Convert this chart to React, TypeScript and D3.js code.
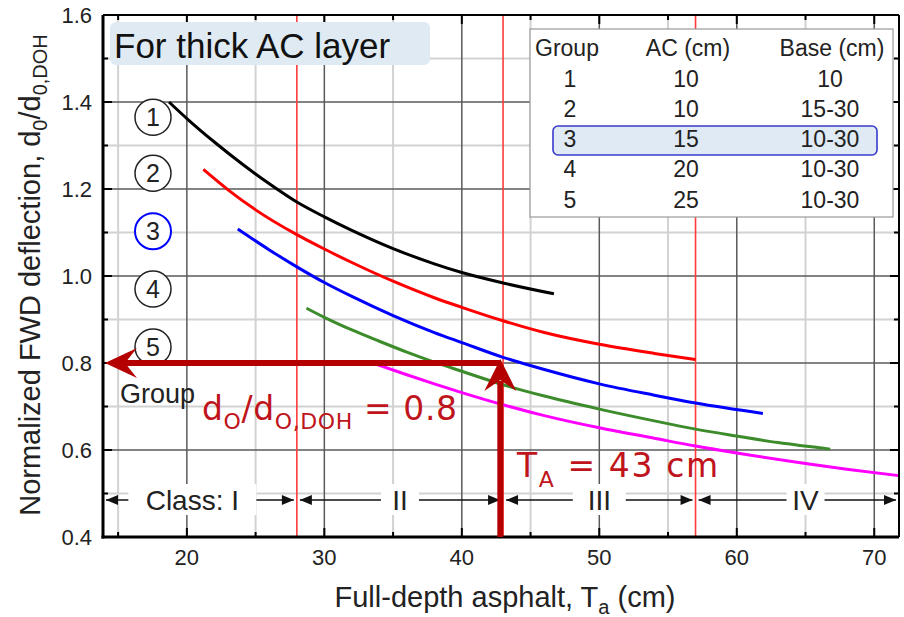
import React from 'react';
import * as d3 from 'd3';

// group curves: [Ta (cm), d0/d0,DOH]
const group1 = [[18.7, 1.40], [20, 1.362], [22, 1.308], [24, 1.258], [26, 1.212], [28, 1.17], [30, 1.136], [32, 1.105], [35, 1.063], [38, 1.028], [40, 1.008], [43, 0.984], [46.7, 0.959]];
const group2 = [[21.2, 1.245], [23, 1.198], [25, 1.152], [28, 1.095], [30, 1.062], [32, 1.031], [35, 0.988], [38, 0.95], [40, 0.928], [43, 0.897], [46, 0.87], [50, 0.843], [54, 0.822], [57, 0.808]];
const group3 = [[23.7, 1.108], [26, 1.06], [28, 1.021], [30, 0.985], [32, 0.953], [35, 0.909], [38, 0.87], [40, 0.847], [43, 0.813], [46, 0.785], [50, 0.752], [54, 0.726], [57, 0.708], [61.9, 0.684]];
const group4 = [[28.7, 0.926], [30, 0.905], [32, 0.876], [34, 0.85], [36, 0.825], [38, 0.802], [40, 0.781], [43, 0.75], [46, 0.724], [50, 0.694], [54, 0.667], [57, 0.648], [60, 0.632], [63, 0.617], [66.8, 0.602]];
const group5 = [[33.8, 0.797], [36, 0.773], [38, 0.752], [40, 0.732], [43, 0.704], [46, 0.679], [50, 0.651], [54, 0.627], [57, 0.609], [60, 0.593], [65, 0.569], [68, 0.556], [71.8, 0.541]];

const groupSeries = [group1, group2, group3, group4, group5];
const groupColors = ['#000000', '#ff0000', '#0000ff', '#3d8c2c', '#ff00ff'];
const circleLabels = ['1', '2', '3', '4', '5'];
const circleValues = [1.365, 1.236, 1.103, 0.97, 0.837];

const xMajor = [20, 30, 40, 50, 60, 70];
const xMinor = [15, 25, 35, 45, 55, 65];
const yMajor = [0.4, 0.6, 0.8, 1.0, 1.2, 1.4, 1.6];
const yMinor = [0.5, 0.7, 0.9, 1.1, 1.3, 1.5];

const classBounds = [13.9, 28, 43, 57, 71.8];
const classNames = ['Class: I', 'II', 'III', 'IV'];
const classLabelX = [20.4, 35.5, 50, 65];
const classRowY = 0.485;

const tableHeader = ['Group', 'AC (cm)', 'Base (cm)'];
const tableGroup = ['1', '2', '3', '4', '5'];
const tableAC = ['10', '10', '15', '20', '25'];
const tableBase = ['10', '15-30', '10-30', '10-30', '10-30'];

const targetD = 0.8;
const targetTa = 42.8;

const W = 904;
const H = 617;
const font = '"Liberation Sans", Arial, sans-serif';
const redFont = '"DejaVu Sans", Verdana, sans-serif';

export default function App() {
  const x = d3.scaleLinear().domain([13.9, 71.8]).range([103, 899]);
  const y = d3.scaleLinear().domain([0.4, 1.6]).range([537, 15]);

  const line = d3.line<number[]>()
    .x(d => x(d[0]))
    .y(d => y(d[1]))
    .curve(d3.curveMonotoneX);

  const x0 = x.range()[0], x1 = x.range()[1];
  const y0 = y.range()[0], y1 = y.range()[1];

  const arrowRed = '#b40000';
  const hy = y(targetD);
  const vx = x(targetTa);

  const small = (ax: number, ay: number, dir: number) =>
    `M${ax},${ay} L${ax - dir * 12},${ay - 5} L${ax - dir * 12},${ay + 5} Z`;

  return (
    <svg width={W} height={H} style={{ position: 'absolute', left: 0, top: 0 }}>
      <rect width={W} height={H} fill="#fff" />

      {/* grid */}
      {xMinor.map(v => <line key={'xm' + v} x1={x(v)} x2={x(v)} y1={y0} y2={y1} stroke="#d2d2d2" strokeWidth={2} />)}
      {yMinor.map(v => <line key={'ym' + v} x1={x0} x2={x1} y1={y(v)} y2={y(v)} stroke="#d2d2d2" strokeWidth={2} />)}
      {xMajor.map(v => <line key={'xM' + v} x1={x(v)} x2={x(v)} y1={y0} y2={y1} stroke="#5a5a5a" strokeWidth={1.5} />)}
      {yMajor.map(v => <line key={'yM' + v} x1={x0} x2={x1} y1={y(v)} y2={y(v)} stroke="#5a5a5a" strokeWidth={1.5} />)}

      {/* class boundaries */}
      {classBounds.slice(1, 4).map(v => <line key={'cb' + v} x1={x(v)} x2={x(v)} y1={y0} y2={y1} stroke="#ff3b3b" strokeWidth={1.6} />)}

      {/* curves */}
      {groupSeries.map((s, i) => (
        <path key={'g' + i} d={line(s) || ''} fill="none" stroke={groupColors[i]} strokeWidth={3} />
      ))}

      {/* class row */}
      {classNames.map((n, i) => {
        const a = x(classBounds[i]) + 3, b = x(classBounds[i + 1]) - 3;
        const yy = y(classRowY);
        return (
          <g key={'cl' + i}>
            <line x1={a} x2={b} y1={yy} y2={yy} stroke="#111" strokeWidth={1.6} />
            <path d={small(a, yy, -1)} fill="#111" />
            <path d={small(b, yy, 1)} fill="#111" />
          </g>
        );
      })}
      {classNames.map((n, i) => {
        const cx = x(classLabelX[i]);
        const wd = n.length * 15 + 8;
        return (
          <g key={'cn' + i}>
            <rect x={cx - wd / 2} y={y(classRowY) - 16} width={wd} height={31} fill="#fff" />
            <text x={cx} y={y(classRowY) + 10} textAnchor="middle" fontFamily={font} fontSize={28} fill="#222">{n}</text>
          </g>
        );
      })}

      {/* axes frame */}
      <line x1={x0} x2={x1} y1={y1} y2={y1} stroke="#000" strokeWidth={2} />
      <line x1={x1} x2={x1} y1={y0} y2={y1} stroke="#000" strokeWidth={2} />
      <line x1={x0} x2={x0} y1={y0 + 1.5} y2={y1} stroke="#000" strokeWidth={3} />
      <line x1={x0 - 1.5} x2={x1} y1={y0} y2={y0} stroke="#000" strokeWidth={3} />
      {xMajor.map(v => (
        <g key={'xt' + v}>
          <line x1={x(v)} x2={x(v)} y1={y0} y2={y0 - 9} stroke="#000" strokeWidth={2} />
          <line x1={x(v)} x2={x(v)} y1={y1} y2={y1 + 9} stroke="#000" strokeWidth={2} />
          <text x={x(v)} y={565} textAnchor="middle" fontFamily={font} fontSize={22} fill="#222">{v}</text>
        </g>
      ))}
      {xMinor.map(v => (
        <g key={'xmt' + v}>
          <line x1={x(v)} x2={x(v)} y1={y0} y2={y0 - 5} stroke="#000" strokeWidth={2} />
          <line x1={x(v)} x2={x(v)} y1={y1} y2={y1 + 5} stroke="#000" strokeWidth={2} />
        </g>
      ))}
      {yMajor.map(v => (
        <g key={'yt' + v}>
          <line x1={x0} x2={x0 + 9} y1={y(v)} y2={y(v)} stroke="#000" strokeWidth={2} />
          <line x1={x1} x2={x1 - 9} y1={y(v)} y2={y(v)} stroke="#000" strokeWidth={2} />
          <text x={92} y={y(v) + 8} textAnchor="end" fontFamily={font} fontSize={22} fill="#222">{v.toFixed(1)}</text>
        </g>
      ))}
      {yMinor.map(v => (
        <g key={'ymt' + v}>
          <line x1={x0} x2={x0 + 5} y1={y(v)} y2={y(v)} stroke="#000" strokeWidth={2} />
          <line x1={x1} x2={x1 - 5} y1={y(v)} y2={y(v)} stroke="#000" strokeWidth={2} />
        </g>
      ))}

      {/* axis titles */}
      <text x={505} y={607} textAnchor="middle" fontFamily={font} fontSize={29} fill="#222">
        Full-depth asphalt, T<tspan fontSize={20} dy={7}>a</tspan><tspan dy={-7}> (cm)</tspan>
      </text>
      <text transform="translate(40,275) rotate(-90)" textAnchor="middle" fontFamily={font} fontSize={29} fill="#222">
        Normalized FWD deflection, d<tspan fontSize={20} dy={7}>0</tspan><tspan dy={-7}>/d</tspan><tspan fontSize={20} dy={7}>0,DOH</tspan>
      </text>

      {/* title box */}
      <rect x={110} y={22} width={320} height={43} rx={6} fill="#dfeaf3" />
      <text x={114} y={58} fontFamily={font} fontSize={35} fill="#111">For thick AC layer</text>

      {/* circled group numbers */}
      {circleLabels.map((c, i) => (
        <g key={'c' + i}>
          <circle cx={153} cy={y(circleValues[i])} r={18} fill="#fff" stroke={i === 2 ? '#0000ff' : '#222'} strokeWidth={i === 2 ? 2 : 1.5} />
          <text x={153} y={y(circleValues[i]) + 9} textAnchor="middle" fontFamily={font} fontSize={25} fill="#222">{c}</text>
        </g>
      ))}
      <text x={120} y={403} fontFamily={font} fontSize={27} fill="#222">Group</text>

      {/* table legend */}
      <rect x={530} y={29} width={363} height={188} fill="#fff" stroke="#999" strokeWidth={1.2} />
      <rect x={553} y={126} width={324} height={29} rx={5} fill="#dfeaf4" stroke="#3a3acc" strokeWidth={1.6} />
      <text x={535} y={56} fontFamily={font} fontSize={23} fill="#222">{tableHeader[0]}</text>
      <text x={688} y={56} textAnchor="middle" fontFamily={font} fontSize={23} fill="#222">{tableHeader[1]}</text>
      <text x={832} y={56} textAnchor="middle" fontFamily={font} fontSize={23} fill="#222">{tableHeader[2]}</text>
      {tableGroup.map((g, i) => (
        <g key={'row' + i}>
          <text x={570} y={86.5 + i * 30.3} textAnchor="middle" fontFamily={font} fontSize={23} fill="#222">{g}</text>
          <text x={686} y={86.5 + i * 30.3} textAnchor="middle" fontFamily={font} fontSize={23} fill="#222">{tableAC[i]}</text>
          <text x={830} y={86.5 + i * 30.3} textAnchor="middle" fontFamily={font} fontSize={23} fill="#222">{tableBase[i]}</text>
        </g>
      ))}

      {/* target arrows */}
      <line x1={vx} x2={x0 + 20} y1={hy} y2={hy} stroke={arrowRed} strokeWidth={6} />
      <path d={`M${x0 + 2},${hy} L${x0 + 34},${hy - 15} L${x0 + 22},${hy} L${x0 + 34},${hy + 15} Z`} fill={arrowRed} />
      <line x1={vx} x2={vx} y1={y0} y2={hy + 18} stroke={arrowRed} strokeWidth={6} />
      <path d={`M${vx},${hy - 4} L${vx - 16},${hy + 28} L${vx},${hy + 17} L${vx + 16},${hy + 28} Z`} fill={arrowRed} />

      {/* annotations */}
      <text x={202} y={420} fontFamily={redFont} fontSize={33} letterSpacing={0.6} fill="#c0141c">
        d<tspan fontSize={22} dy={9}>O</tspan><tspan dy={-9}>/d</tspan><tspan fontSize={22} dy={9}>O,DOH</tspan><tspan dy={-9}> = 0.8</tspan>
      </text>
      <text x={517} y={477} fontFamily={redFont} fontSize={33} letterSpacing={1.6} fill="#c0141c">
        T<tspan fontSize={22} dy={10}>A</tspan><tspan dy={-10}> = 43 cm</tspan>
      </text>
    </svg>
  );
}
